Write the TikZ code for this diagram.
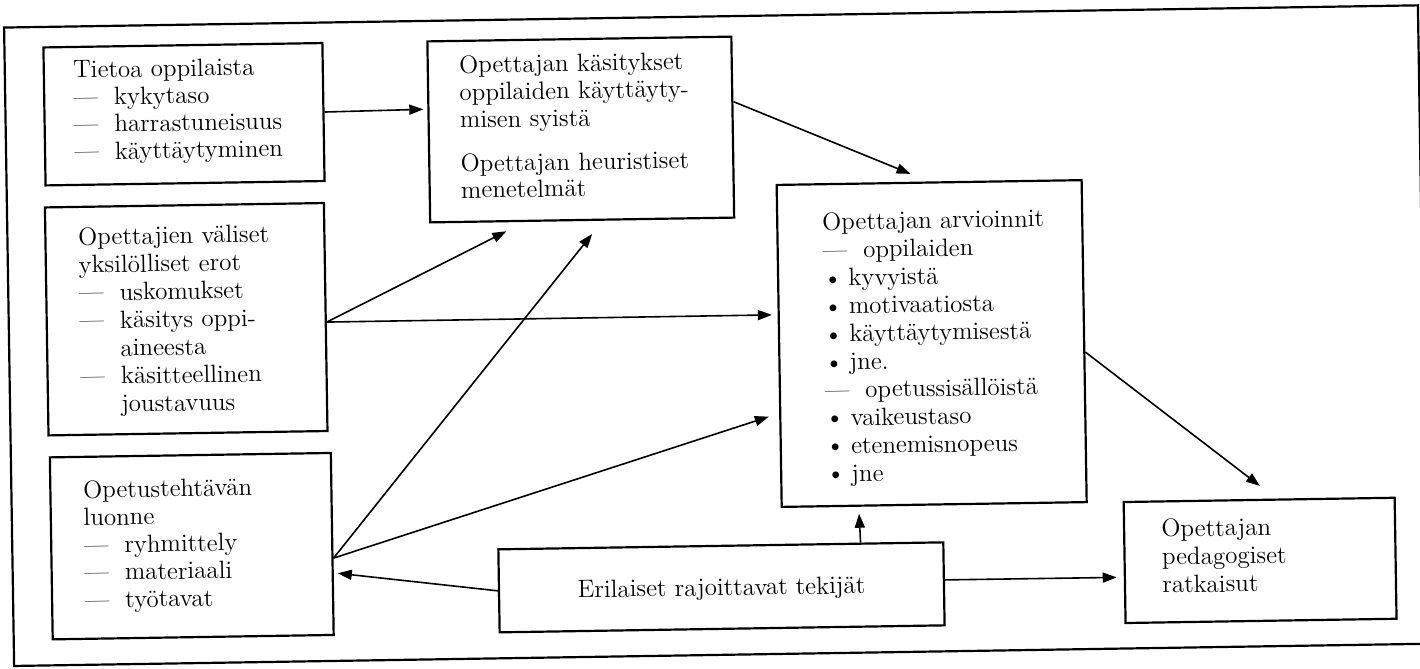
\documentclass[tikz,border=0pt]{standalone}
\usepackage{fontspec}
\usetikzlibrary{arrows.meta,calc}
\newcommand\itemdash{—\hspace{8pt}}
\newcommand\itemgap{\hphantom{—\hspace{8pt}}}
\newcommand\bul{\makebox[12.7pt][l]{\textbullet}}
\tikzset{
  box/.style={draw, rectangle, line width=1.1pt, inner sep=0pt},
  tx/.style={anchor=base west, inner sep=0pt, text width=200pt, align=left,
             font=\fontsize{12.5pt}{#1}\selectfont},
  arr/.style={-{Triangle[length=7pt,width=5pt]}, line width=0.8pt},
  frame/.style={line width=1.1pt}
}
\begin{document}
\begin{tikzpicture}[x=0.5pt,y=-0.5pt]
\useasboundingbox (0,0) rectangle (1420,669);
\begin{scope}[rotate around={0.9:(710,334.5)}, transform shape]
\draw[frame] (9,16.5) -- (1423,16.5) -- (1423,655) -- (9,655) -- cycle;
% boxes
\node[box, minimum width=139.5pt, minimum height=69pt]  (A) at (187.5,106) {};
\node[box, minimum width=152pt,   minimum height=90.5pt] (B) at (584,127.5) {};
\node[box, minimum width=139.5pt, minimum height=114pt] (C) at (186.5,311) {};
\node[box, minimum width=152.5pt, minimum height=161pt] (D) at (931.5,347) {};
\node[box, minimum width=140.5pt, minimum height=91pt]  (E) at (188.5,538) {};
\node[box, minimum width=135.5pt, minimum height=60.5pt] (F) at (1256.5,569) {};
\node[box, minimum width=222.5pt, minimum height=41.5pt] (G) at (717.5,587.5) {};
% texts
\node[tx=13.65pt] (At) at (77,68) {Tietoa oppilaista\\ \itemdash kykytaso\\ \itemdash harrastuneisuus\\ \itemdash käyttäytyminen};
\node[tx=13.7pt] (Bt1) at (463,69.2) {Opettajan käsitykset\\ oppilaiden käyttäyty-\\ misen syistä};
\node[tx=13.2pt] (Bt2) at (463,168) {Opettajan heuristiset\\ menetelmät};
\node[tx=13.95pt] (Ct) at (79.5,235.2) {Opettajien väliset\\ yksilölliset erot\\ \itemdash uskomukset\\ \itemdash käsitys oppi-\\ \itemgap aineesta\\ \itemdash käsitteellinen\\ \itemgap joustavuus};
\node[tx=14pt] (Dt) at (823.6,231.8) {Opettajan arvioinnit\\ \itemdash oppilaiden\\ \bul kyvyistä\\ \bul motivaatiosta\\ \bul käyttäytymisestä\\ \bul jne.\\ \itemdash opetussisällöistä\\ \bul vaikeustaso\\ \bul etenemisnopeus\\ \bul jne};
\node[tx=13.75pt] (Et) at (80.4,488.2) {Opetustehtävän\\ luonne\\ \itemdash ryhmittely\\ \itemdash materiaali\\ \itemdash työtavat};
\node[tx=14pt] (Ft) at (1158,544) {Opettajan\\ pedagogiset\\ ratkaisut};
\node[anchor=base, inner sep=0pt, font=\fontsize{12.5pt}{13.75pt}\selectfont] (Gt) at (717.5,595.7) {Erilaiset rajoittavat tekijät};
% connectors
\draw[arr, shorten >=2pt] (A.east) -- ($(B.north west)!0.376!(B.south west)$);
\draw[arr, shorten >=10pt] ($(B.north east)!0.361!(B.south east)$) -- (D.north);
\draw[arr, shorten >=10.3pt] ($(C.north east)!0.522!(C.south east)$) -- ($(B.south west)!0.3125!(B.south east)$);
\draw[arr, shorten >=2.85pt] ($(C.north east)!0.522!(C.south east)$) -- ($(D.north west)!0.404!(D.south west)$);
\draw[arr, shorten >=8.45pt] ($(E.north east)!0.577!(E.south east)$) -- ($(B.south west)!0.567!(B.south east)$);
\draw[arr, shorten >=5.4pt] ($(E.north east)!0.577!(E.south east)$) -- ($(D.north west)!0.708!(D.south west)$);
\draw[arr, shorten >=10.3pt] ($(D.north east)!0.534!(D.south east)$) -- ($(F.north west)!0.563!(F.north east)$);
\draw[arr, shorten >=3.5pt] ($(G.north west)!0.8126!(G.north east)$) -- ($(D.south west)!0.2544!(D.south east)$);
\draw[arr, shorten >=3.5pt] ($(G.north east)!0.454!(G.south east)$) -- ($(F.north west)!0.62!(F.south west)$);
\draw[arr, shorten >=2pt] (G.west) -- ($(E.north east)!0.657!(E.south east)$);
\end{scope}
\end{tikzpicture}
\end{document}
